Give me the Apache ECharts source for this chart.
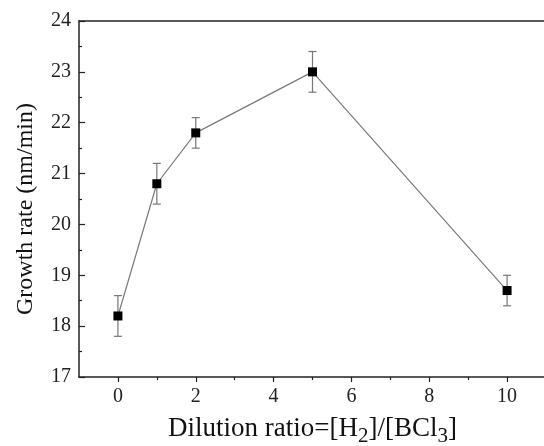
<!DOCTYPE html>
<html>
<head>
<meta charset="utf-8">
<script src="https://cdn.jsdelivr.net/npm/echarts@6/dist/echarts.min.js"></script>
<style>html,body{margin:0;padding:0;background:#fff}#c{width:544px;height:446px}</style>
</head>
<body>
<div id="c"></div>
<script>
var dilution = [0, 1, 2, 5, 10];
var growthRate = [18.2, 20.8, 21.8, 23.0, 18.7];
var errorBar = [0.4, 0.4, 0.3, 0.4, 0.3];
var xMajorTicks = [0, 2, 4, 6, 8, 10];
var xMinorTicks = [1, 3, 5, 7, 9];

var font = 'Liberation Serif';
var pts = dilution.map(function (x, i) { return [x, growthRate[i]]; });
var errs = dilution.map(function (x, i) { return [x, growthRate[i] - errorBar[i], growthRate[i] + errorBar[i]]; });

var chart = echarts.init(document.getElementById('c'), null, {renderer: 'canvas'});
chart.setOption({
  backgroundColor: '#fff',
  animation: false,
  grid: {left: 79, top: 21, width: 467, height: 356, containLabel: false, outerBoundsMode: 'none'},
  xAxis: [{
    type: 'value', min: -1, max: 11, interval: 1, position: 'bottom',
    name: '{n|Dilution ratio=[H}{s|2}{n|]/[BCl}{s|3}{n|]}',
    nameLocation: 'middle', nameGap: 33,
    nameTextStyle: {rich: {
      n: {fontFamily: font, fontSize: 27, color: '#111'},
      s: {fontFamily: font, fontSize: 21, color: '#111', verticalAlign: 'bottom', padding: [16, 0, 0, 0]}
    }},
    axisLine: {show: true, onZero: false, lineStyle: {color: '#222', width: 1.5}},
    axisTick: {show: true, length: 5, customValues: xMajorTicks, lineStyle: {color: '#222', width: 1.2}},
    axisLabel: {customValues: xMajorTicks, margin: 10, fontFamily: font, fontSize: 20, color: '#222'},
    splitLine: {show: false}
  }, {
    type: 'value', min: -1, max: 11, interval: 1, position: 'bottom',
    axisLine: {show: false, onZero: false},
    axisTick: {show: true, length: 3, customValues: xMinorTicks, lineStyle: {color: '#222', width: 1.2}},
    axisLabel: {show: false},
    splitLine: {show: false}
  }, {
    type: 'value', min: -1, max: 11, position: 'top',
    axisLine: {show: true, onZero: false, lineStyle: {color: '#222', width: 1.5}},
    axisTick: {show: false}, axisLabel: {show: false}, splitLine: {show: false}
  }],
  yAxis: {
    type: 'value', min: 17, max: 24, interval: 1,
    name: 'Growth rate (nm/min)', nameLocation: 'middle', nameGap: 41,
    nameTextStyle: {fontFamily: font, fontSize: 24, color: '#111', padding: [0, 20, 0, 0]},
    axisLine: {show: true, onZero: false, lineStyle: {color: '#222', width: 1.5}},
    axisTick: {show: true, inside: true, length: 6, lineStyle: {color: '#222', width: 1.2}},
    minorTick: {show: true, splitNumber: 2, length: 3, lineStyle: {color: '#222', width: 1.2}},
    axisLabel: {margin: 8, fontFamily: font, fontSize: 20, color: '#222'},
    splitLine: {show: false}
  },
  series: [{
    type: 'custom',
    data: errs,
    z: 2,
    renderItem: function (params, api) {
      var x = api.value(0);
      var lo = api.coord([x, api.value(1)]);
      var hi = api.coord([x, api.value(2)]);
      var w = 4;
      var st = {stroke: '#777', lineWidth: 1.2};
      return {type: 'group', children: [
        {type: 'line', shape: {x1: lo[0], y1: lo[1], x2: hi[0], y2: hi[1]}, style: st},
        {type: 'line', shape: {x1: lo[0] - w, y1: lo[1], x2: lo[0] + w, y2: lo[1]}, style: st},
        {type: 'line', shape: {x1: hi[0] - w, y1: hi[1], x2: hi[0] + w, y2: hi[1]}, style: st}
      ]};
    }
  }, {
    type: 'line',
    data: pts,
    z: 3,
    symbol: 'rect', symbolSize: 9,
    itemStyle: {color: '#000'},
    lineStyle: {color: '#7a7a7a', width: 1.2}
  }]
});
</script>
</body>
</html>
